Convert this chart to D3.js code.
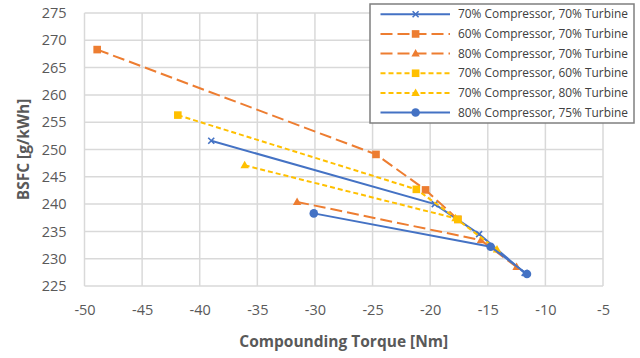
<!DOCTYPE html>
<html>
<head>
<meta charset="utf-8">
<script src="https://cdn.jsdelivr.net/npm/d3@7"></script>
<style>
  html, body { margin: 0; padding: 0; background: #fff; }
  svg { display: block; }
</style>
</head>
<body>
<svg id="chart" width="640" height="358"></svg>
<script>
// Compounding torque [Nm] vs BSFC [g/kWh] for different compressor / turbine efficiencies
const seriesNames = [
  "70% Compressor, 70% Turbine",
  "60% Compressor, 70% Turbine",
  "80% Compressor, 70% Turbine",
  "70% Compressor, 60% Turbine",
  "70% Compressor, 80% Turbine",
  "80% Compressor, 75% Turbine"
];
const torqueC70T70 = [-39.0, -19.6, -15.75, -11.8];
const bsfcC70T70   = [251.6, 240.0, 234.5, 227.4];
const torqueC60T70 = [-48.9, -24.7, -20.4, -17.6];
const bsfcC60T70   = [268.3, 249.1, 242.6, 237.2];
const torqueC80T70 = [-31.55, -15.6, -12.5];
const bsfcC80T70   = [240.4, 233.4, 228.5];
const torqueC70T60 = [-41.9, -21.2, -17.6];
const bsfcC70T60   = [256.3, 242.7, 237.2];
const torqueC70T80 = [-36.1, -17.8, -14.2];
const bsfcC70T80   = [247.1, 237.4, 231.7];
const torqueC80T75 = [-30.1, -14.75, -11.6];
const bsfcC80T75   = [238.3, 232.2, 227.2];

const xTicks = [-50, -45, -40, -35, -30, -25, -20, -15, -10, -5];
const yTicks = [225, 230, 235, 240, 245, 250, 255, 260, 265, 270, 275];

const blue = "#4472C4", orange = "#ED7D31", gold = "#FFC000";
const styles = [
  { color: blue,   dash: null,   marker: "x" },
  { color: orange, dash: "12,5", marker: "square" },
  { color: orange, dash: "12,5", marker: "triangle" },
  { color: gold,   dash: "5,3",  marker: "square" },
  { color: gold,   dash: "5,3",  marker: "triangle" },
  { color: blue,   dash: null,   marker: "circle" }
];
const xs = [torqueC70T70, torqueC60T70, torqueC80T70, torqueC70T60, torqueC70T80, torqueC80T75];
const ys = [bsfcC70T70, bsfcC60T70, bsfcC80T70, bsfcC70T60, bsfcC70T80, bsfcC80T75];
const series = seriesNames.map((name, i) => ({
  name, ...styles[i],
  points: xs[i].map((x, j) => ({ x, y: ys[i][j] }))
}));

const svg = d3.select("#chart");
const plot = { left: 84.5, right: 603, top: 13, bottom: 286 };
const x = d3.scaleLinear().domain([-50, -5]).range([plot.left, plot.right]);
const y = d3.scaleLinear().domain([225, 275]).range([plot.bottom, plot.top]);

const font = "Open Sans, Liberation Sans, sans-serif";
const textColor = "#595959";

// gridlines (also form the frame)
const grid = svg.append("g");
grid.selectAll("line.v").data(xTicks).enter().append("line")
  .attr("x1", d => x(d)).attr("x2", d => x(d))
  .attr("y1", plot.top).attr("y2", plot.bottom)
  .attr("stroke", "#d9d9d9").attr("stroke-width", 1.5);
grid.selectAll("line.h").data(yTicks).enter().append("line")
  .attr("y1", d => y(d)).attr("y2", d => y(d))
  .attr("x1", plot.left).attr("x2", plot.right)
  .attr("stroke", "#d9d9d9").attr("stroke-width", 1.5);

// axes (labels only, plain hyphen for negatives)
const fmt = d => String(d);
const xAxis = d3.axisBottom(x).tickValues(xTicks).tickSize(0).tickPadding(19).tickFormat(fmt);
const yAxis = d3.axisLeft(y).tickValues(yTicks).tickSize(0).tickPadding(18).tickFormat(fmt);
const gx = svg.append("g").attr("transform", `translate(0,${plot.bottom})`).call(xAxis);
const gy = svg.append("g").attr("transform", `translate(${plot.left},0)`).call(yAxis);
[gx, gy].forEach(g => {
  g.select(".domain").remove();
  g.selectAll("text").attr("fill", textColor).style("font-family", font).style("font-size", "14.5px");
});

// axis titles
svg.append("text").attr("x", (plot.left + plot.right) / 2).attr("y", 347)
  .attr("text-anchor", "middle").attr("fill", textColor)
  .style("font-family", font).style("font-size", "15.5px").style("font-weight", "bold")
  .text("Compounding Torque [Nm]");
svg.append("text").attr("transform", `translate(29,${(plot.top + plot.bottom) / 2}) rotate(-90)`)
  .attr("text-anchor", "middle").attr("fill", textColor)
  .style("font-family", font).style("font-size", "15.5px").style("font-weight", "bold")
  .text("BSFC [g/kWh]");

// marker drawing
function drawMarker(g, type, color, cx, cy) {
  if (type === "square") {
    g.append("rect").attr("x", cx - 3.8).attr("y", cy - 3.8).attr("width", 7.6).attr("height", 7.6).attr("fill", color);
  } else if (type === "triangle") {
    g.append("path").attr("d", `M${cx},${cy - 4.5}L${cx + 4.2},${cy + 3}L${cx - 4.2},${cy + 3}Z`).attr("fill", color);
  } else if (type === "circle") {
    g.append("circle").attr("cx", cx).attr("cy", cy).attr("r", 4.3).attr("fill", color);
  } else if (type === "x") {
    g.append("path").attr("d", `M${cx - 3},${cy - 3}L${cx + 3},${cy + 3}M${cx - 3},${cy + 3}L${cx + 3},${cy - 3}`)
      .attr("stroke", color).attr("stroke-width", 1.6);
  }
}

const line = d3.line().x(d => x(d.x)).y(d => y(d.y));
const marks = svg.append("g");
series.forEach(s => {
  const g = marks.append("g");
  g.append("path").datum(s.points).attr("d", line)
    .attr("fill", "none").attr("stroke", s.color).attr("stroke-width", 2)
    .attr("stroke-dasharray", s.dash);
  s.points.forEach(p => drawMarker(g, s.marker, s.color, x(p.x), y(p.y)));
});

// legend
const legend = svg.append("g");
legend.append("rect").attr("x", 370).attr("y", 4).attr("width", 264).attr("height", 119)
  .attr("fill", "#fff").attr("stroke", "#7f7f7f").attr("stroke-width", 1.5);
series.forEach((s, i) => {
  const ly = 14.3 + i * 19.65;
  const g = legend.append("g");
  g.append("line").attr("x1", 380.5).attr("x2", 450).attr("y1", ly).attr("y2", ly)
    .attr("stroke", s.color).attr("stroke-width", 2).attr("stroke-dasharray", s.dash);
  drawMarker(g, s.marker, s.color, 415.6, ly);
  g.append("text").attr("x", 458).attr("y", ly).attr("dy", "0.35em")
    .attr("fill", "#404040").style("font-family", font).style("font-size", "11.9px")
    .text(s.name);
});
</script>
</body>
</html>
